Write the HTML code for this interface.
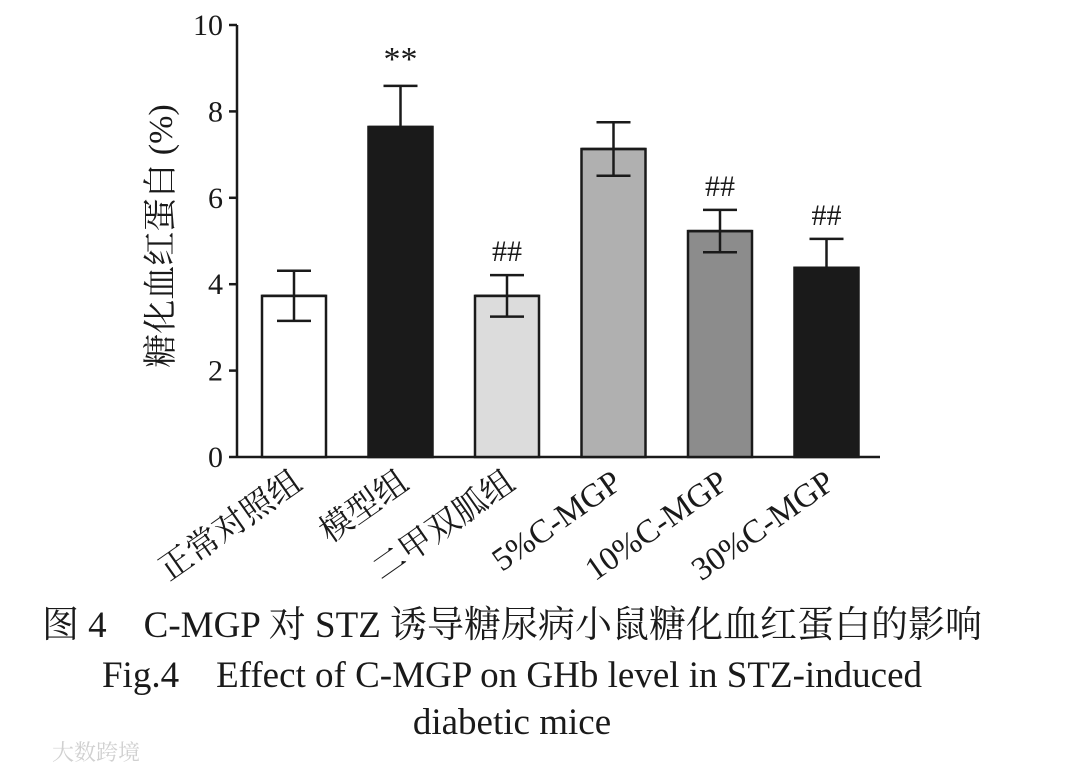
<!DOCTYPE html>
<html><head><meta charset="utf-8">
<style>
body{margin:0;background:#fff;width:1080px;height:773px;overflow:hidden}
text{font-family:"Liberation Serif","Noto Serif CJK SC",serif;fill:#1a1a1a}
</style></head><body>
<svg id="chart" width="1080" height="773" viewBox="0 0 1080 773"></svg>
<script>
const categories=["正常对照组","模型组","二甲双胍组","5%C-MGP","10%C-MGP","30%C-MGP"];
const values=[3.73,7.64,3.73,7.13,5.23,4.38];
const errors=[0.58,0.95,0.48,0.62,0.49,0.67];
const marks=["","**","##","","##","##"];
const fills=["#ffffff","#1a1a1a","#dcdcdc","#b0b0b0","#8c8c8c","#1a1a1a"];
const yTicks=[0,2,4,6,8,10];
const NS="http://www.w3.org/2000/svg";
const svg=document.getElementById('chart');
const y0=457,y1=25,xL=237,xR=880;
function yS(v){return y0-(v/10)*(y0-y1);}
function xC(i){return 294+i*106.5;}
function el(t,a,p){const e=document.createElementNS(NS,t);for(const k in a)e.setAttribute(k,a[k]);(p||svg).appendChild(e);return e;}
const ax=el('g',{});


el('line',{x1:xL,y1:y1,x2:xL,y2:y0,stroke:'#1a1a1a','stroke-width':2.5},ax);
el('line',{x1:xL,y1:y0,x2:xR,y2:y0,stroke:'#1a1a1a','stroke-width':2.5},ax);
yTicks.forEach(v=>{
  el('line',{x1:xL-8,y1:yS(v),x2:xL,y2:yS(v),stroke:'#1a1a1a','stroke-width':2.5},ax);
  const t=el('text',{x:xL-14,y:yS(v)+10,'text-anchor':'end','font-size':30},ax);
  t.textContent=v;
  
  
});
categories.forEach((c,i)=>{
  const w=64,x=xC(i)-w/2,top=yS(values[i]);
  const b=el('rect',{x:x,y:top,width:w,height:y0-top,fill:fills[i],stroke:'#1a1a1a','stroke-width':2.5});
  
  
  const eT=yS(values[i]+errors[i]),eB=yS(values[i]-errors[i]);
  const g=el('g',{stroke:'#1a1a1a','stroke-width':2.5});
  
  
  el('line',{x1:xC(i),y1:eT,x2:xC(i),y2:eB},g);
  el('line',{x1:xC(i)-17,y1:eT,x2:xC(i)+17,y2:eT},g);
  el('line',{x1:xC(i)-17,y1:eB,x2:xC(i)+17,y2:eB},g);
  el('line',{x1:xC(i)-32,y1:top,x2:xC(i)+32,y2:top},g);
  if(marks[i]){
    const m=el('text',{x:xC(i),y:eT-(marks[i]=='**'?16:14),'text-anchor':'middle','font-size':marks[i]=='**'?34:30});
    m.textContent=marks[i];
    
    
  }
  const l=el('text',{x:0,y:0,'text-anchor':'end','font-size':33,transform:`translate(${xC(i)+10},${y0+30}) rotate(-35)`});
  l.textContent=c;
  
  
});
const yt=el('text',{x:0,y:0,'text-anchor':'middle','font-size':34,transform:'translate(172,236) rotate(-90)'});
yt.textContent='糖化血红蛋白 (%)';


const caps=[["图 4　C-MGP 对 STZ 诱导糖尿病小鼠糖化血红蛋白的影响",637],["Fig.4　Effect of C-MGP on GHb level in STZ-induced",687],["diabetic mice",734]];
caps.forEach((c,i)=>{
  const t=el('text',{x:512,y:c[1],'text-anchor':'middle','font-size':37});
  t.textContent=c[0];
  
  
});
const wm=el('text',{x:52,y:760,'font-size':22,style:'fill:#d0d0d0'});
wm.textContent='大数跨境';


</script>
</body></html>
